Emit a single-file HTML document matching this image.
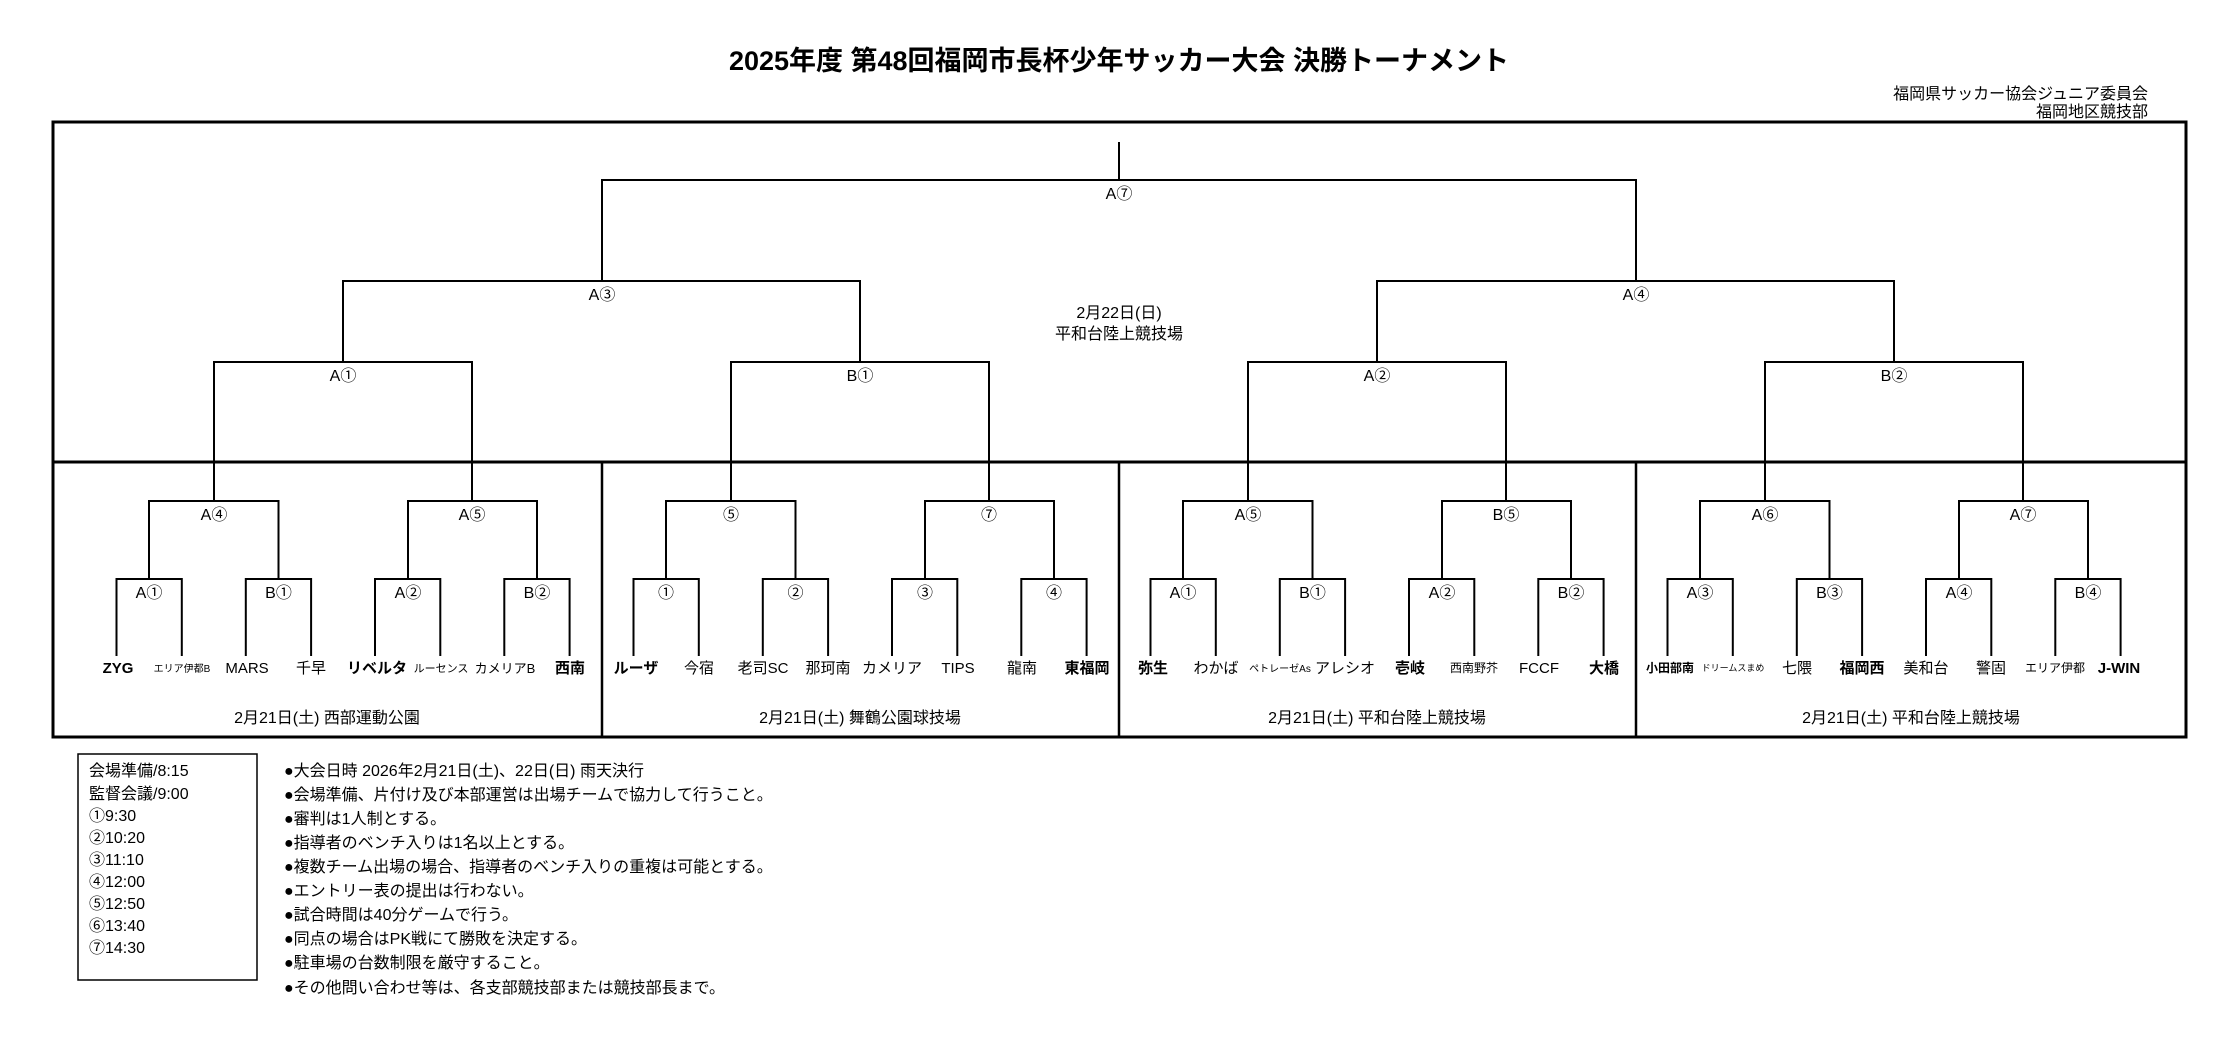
<!DOCTYPE html>
<html><head><meta charset="utf-8"><style>
html,body{margin:0;padding:0;background:#fff}
svg{display:block}
text{font-family:"Liberation Sans","Noto Sans CJK JP",sans-serif;fill:#000}
</style></head><body>
<svg width="2227" height="1045" viewBox="0 0 2227 1045" xmlns="http://www.w3.org/2000/svg">
<text x="1119" y="70" font-size="27" font-weight="bold" text-anchor="middle">2025年度 第48回福岡市長杯少年サッカー大会 決勝トーナメント</text>
<text x="2148" y="99" font-size="16" text-anchor="end">福岡県サッカー協会ジュニア委員会</text>
<text x="2148" y="117" font-size="16" text-anchor="end">福岡地区競技部</text>
<g fill="none" stroke="#000">
<rect x="53" y="122" width="2133" height="615" stroke-width="3"/>
<line x1="53" y1="462" x2="2186" y2="462" stroke-width="3"/>
<line x1="602" y1="462" x2="602" y2="737" stroke-width="2.5"/>
<line x1="1119" y1="462" x2="1119" y2="737" stroke-width="2.5"/>
<line x1="1636" y1="462" x2="1636" y2="737" stroke-width="2.5"/>
<g stroke-width="2">
<path d="M1119 142V180M602 281V180H1636V281"/>
<path d="M343 362V281H860V362M1377 362V281H1894V362"/>
<path d="M214 501V362H472V501M731 501V362H989V501M1248 501V362H1506V501M1765 501V362H2023V501"/>
<path d="M149 579V501H278.5V579M408 579V501H537V579M666 579V501H795.5V579M925 579V501H1054V579M1183 579V501H1312.5V579M1442 579V501H1571V579M1700 579V501H1829.5V579M1959 579V501H2088V579"/>
<path d="M116.5 656V579H181.8V656M245.8 656V579H311.1V656M375 656V579H440.3V656M504.3 656V579H569.6V656M633.5 656V579H698.8V656M762.8 656V579H828.1V656M892 656V579H957.3V656M1021.3 656V579H1086.6V656M1150.5 656V579H1215.8V656M1279.8 656V579H1345.1V656M1409 656V579H1474.3V656M1538.3 656V579H1603.6V656M1667.5 656V579H1732.8V656M1796.8 656V579H1862.1V656M1926 656V579H1991.3V656M2055.3 656V579H2120.6V656"/>
</g>
<rect x="78" y="754" width="179" height="226" stroke-width="1.5"/>
</g>
<g font-size="16" text-anchor="middle">
<text x="1119" y="199">A⑦</text>
<text x="602" y="300">A③</text><text x="1636" y="300">A④</text>
<text x="343" y="381">A①</text><text x="860" y="381">B①</text><text x="1377" y="381">A②</text><text x="1894" y="381">B②</text>
<text x="214" y="520">A④</text><text x="472" y="520">A⑤</text><text x="731" y="520">⑤</text><text x="989" y="520">⑦</text>
<text x="1248" y="520">A⑤</text><text x="1506" y="520">B⑤</text><text x="1765" y="520">A⑥</text><text x="2023" y="520">A⑦</text>
<text x="149" y="598">A①</text><text x="278.5" y="598">B①</text><text x="408" y="598">A②</text><text x="537" y="598">B②</text>
<text x="666" y="598">①</text><text x="795.5" y="598">②</text><text x="925" y="598">③</text><text x="1054" y="598">④</text>
<text x="1183" y="598">A①</text><text x="1312.5" y="598">B①</text><text x="1442" y="598">A②</text><text x="1571" y="598">B②</text>
<text x="1700" y="598">A③</text><text x="1829.5" y="598">B③</text><text x="1959" y="598">A④</text><text x="2088" y="598">B④</text>
<text x="1119" y="318">2月22日(日)</text><text x="1119" y="339">平和台陸上競技場</text>
</g>
<g font-size="15" text-anchor="middle">
<text x="118" y="673" font-weight="bold">ZYG</text>
<text x="182" y="672" font-size="10">エリア伊都B</text>
<text x="247" y="673">MARS</text>
<text x="311" y="673">千早</text>
<text x="377" y="673" font-weight="bold">リベルタ</text>
<text x="441" y="672" font-size="11">ルーセンス</text>
<text x="505" y="673" font-size="13">カメリアB</text>
<text x="570" y="673" font-weight="bold">西南</text>
<text x="636" y="673" font-weight="bold">ルーザ</text>
<text x="699" y="673">今宿</text>
<text x="763" y="673">老司SC</text>
<text x="828" y="673">那珂南</text>
<text x="892" y="673">カメリア</text>
<text x="958" y="673">TIPS</text>
<text x="1022" y="673">龍南</text>
<text x="1087" y="673" font-weight="bold">東福岡</text>
<text x="1153" y="673" font-weight="bold">弥生</text>
<text x="1216" y="673">わかば</text>
<text x="1280" y="672" font-size="10">ペトレーゼAs</text>
<text x="1345" y="673">アレシオ</text>
<text x="1410" y="673" font-weight="bold">壱岐</text>
<text x="1474" y="672" font-size="12">西南野芥</text>
<text x="1539" y="673">FCCF</text>
<text x="1604" y="673" font-weight="bold">大橋</text>
<text x="1670" y="672" font-weight="bold" font-size="12">小田部南</text>
<text x="1733" y="671" font-size="9">ドリームスまめ</text>
<text x="1797" y="673">七隈</text>
<text x="1862" y="673" font-weight="bold">福岡西</text>
<text x="1926" y="673">美和台</text>
<text x="1991" y="673">警固</text>
<text x="2055" y="672" font-size="12">エリア伊都</text>
<text x="2119" y="673" font-weight="bold">J-WIN</text>
</g>
<g font-size="16" text-anchor="middle">
<text x="327" y="723">2月21日(土)  西部運動公園</text>
<text x="860" y="723">2月21日(土)  舞鶴公園球技場</text>
<text x="1377" y="723">2月21日(土)  平和台陸上競技場</text>
<text x="1911" y="723">2月21日(土)  平和台陸上競技場</text>
</g>
<g font-size="16">
<text x="89" y="776">会場準備/8:15</text>
<text x="89" y="799">監督会議/9:00</text>
<text x="89" y="821">①9:30</text>
<text x="89" y="843">②10:20</text>
<text x="89" y="865">③11:10</text>
<text x="89" y="887">④12:00</text>
<text x="89" y="909">⑤12:50</text>
<text x="89" y="931">⑥13:40</text>
<text x="89" y="953">⑦14:30</text>
</g>
<g font-size="16">
<text x="284" y="776">●大会日時  2026年2月21日(土)、22日(日)  雨天決行</text>
<text x="284" y="800">●会場準備、片付け及び本部運営は出場チームで協力して行うこと。</text>
<text x="284" y="824">●審判は1人制とする。</text>
<text x="284" y="848">●指導者のベンチ入りは1名以上とする。</text>
<text x="284" y="872">●複数チーム出場の場合、指導者のベンチ入りの重複は可能とする。</text>
<text x="284" y="896">●エントリー表の提出は行わない。</text>
<text x="284" y="920">●試合時間は40分ゲームで行う。</text>
<text x="284" y="944">●同点の場合はPK戦にて勝敗を決定する。</text>
<text x="284" y="968">●駐車場の台数制限を厳守すること。</text>
<text x="284" y="993">●その他問い合わせ等は、各支部競技部または競技部長まで。</text>
</g>
</svg>
</body></html>
